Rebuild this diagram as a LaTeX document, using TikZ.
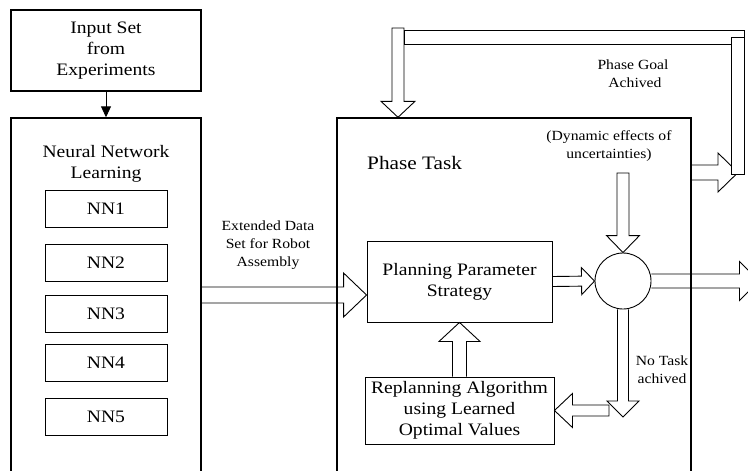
\documentclass[tikz,border=0pt]{standalone}
\usepackage{fontspec}
\setmainfont{Liberation Serif}[FakeStretch=1.12]
\usetikzlibrary{calc,arrows.meta}

% hollow block arrow from #2 to #3: shaft half width #4, head half width #5, head length #6
\newcommand{\blockarrow}[6][]{%
  \coordinate (ba-c) at ($(#3)!#6!(#2)$);
  \draw[arrowline] ($(#2)!#4!90:(#3)$) -- ($(ba-c)!#4!-90:(#2)$) -- ($(ba-c)!#5!-90:(#2)$)
    -- (#3) -- ($(ba-c)!#5!90:(#2)$) -- ($(ba-c)!#4!90:(#2)$) -- ($(#2)!#4!-90:(#3)$) #1;}

\tikzset{
  bigbox/.style={draw, line width=1.4pt, inner sep=0pt, align=center},
  smallbox/.style={draw, line width=0.9pt, inner sep=0pt, align=center},
  arrowline/.style={draw, line width=0.9pt, line join=miter},
  maintext/.style={font=\fontsize{17.5}{21}\selectfont, align=center, inner sep=0pt},
  labeltext/.style={font=\fontsize{14}{18}\selectfont, align=center, inner sep=0pt},
}

\begin{document}
\begin{tikzpicture}[x=1pt, y=-1pt]
\useasboundingbox (0,0) rectangle (748,471);
\clip (0,0) rectangle (748,471);

% left column
\node[bigbox, maintext, minimum width=190pt, minimum height=81pt] (input) at (106,50.5)
  {Input Set\\from\\Experiments};
\node[bigbox, minimum width=190pt, minimum height=362pt] (nn) at (106,299) {};
\node[maintext] (nntitle) at (106,164) {Neural Network\\Learning};
\node[smallbox, maintext, minimum width=122pt, minimum height=37pt] (nn1) at (106,208.5) {NN1};
\node[smallbox, maintext, minimum width=122pt, minimum height=37pt] (nn2) at (106,263) {NN2};
\node[smallbox, maintext, minimum width=122pt, minimum height=37pt] (nn3) at (106,313.5) {NN3};
\node[smallbox, maintext, minimum width=122pt, minimum height=37pt] (nn4) at (106,363) {NN4};
\node[smallbox, maintext, minimum width=122pt, minimum height=37pt] (nn5) at (106,417) {NN5};
\draw[line width=0.9pt, -{Triangle[length=11pt, width=10pt]}] (input.south) -- (nn.north);

% phase block
\node[bigbox, minimum width=354pt, minimum height=362pt] (phase) at (514,299) {};
\node[font=\fontsize{19}{22}\selectfont, inner sep=0pt, anchor=west] (phasetitle) at (367,163) {Phase Task};
\node[smallbox, maintext, minimum width=185pt, minimum height=81pt] (plan) at (459.5,281.5)
  {Planning Parameter\\Strategy};
\node[smallbox, maintext, minimum width=189pt, minimum height=67pt] (replan) at (459.5,410.5)
  {Replanning Algorithm\\using Learned\\Optimal Values};
\node[draw, line width=0.9pt, circle, minimum size=56pt, inner sep=0pt] (circ) at (623,281) {};

% labels
\node[labeltext] (extlabel) at (268,245) {Extended Data\\Set for Robot\\Assembly};
\node[labeltext] (dynlabel) at (609,146.5) {(Dynamic effects of\\uncertainties)};
\node[labeltext] (goallabel) at (633,74) {Phase Goal\\\ Achived};
\node[labeltext] (notask) at (662,369.5) {No Task\\achived};

% connector end points
\coordinate (ext-s) at (nn.east |- 0,295);
\coordinate (ext-e) at (plan.west |- ext-s);
\coordinate (out-e) at (759,281);
\coordinate (unc-s) at (circ.north |- 0,173);
\coordinate (nt-e) at (circ.south |- 0,417);
\coordinate (back-s) at (609,410.5);
\coordinate (back-e) at (replan.east |- back-s);
\coordinate (goal-s) at (phase.east |- 0,172.5);
\coordinate (goal-e) at (738,172.5);
\coordinate (loop-s) at (398,28);
\coordinate (loop-e) at (phase.north -| loop-s);

% block arrows
\blockarrow{ext-s}{ext-e}{8pt}{22pt}{23pt}
\blockarrow{plan.east}{circ.west}{5pt}{13.5pt}{13pt}
\blockarrow{circ.east}{out-e}{7pt}{19.5pt}{19.5pt}
\blockarrow[-- cycle]{unc-s}{circ.north}{6pt}{16.5pt}{17pt}
\blockarrow{circ.south}{nt-e}{5.5pt}{16pt}{16pt}
\blockarrow[-- cycle]{back-s}{back-e}{5.5pt}{17pt}{18pt}
\blockarrow{replan.north}{plan.south}{7pt}{20.5pt}{19pt}
\blockarrow{goal-s}{goal-e}{7.5pt}{19.5pt}{20pt}

% feedback loop back to the phase task
\blockarrow[-- cycle]{loop-s}{loop-e}{6pt}{17pt}{16pt}
\draw[arrowline] (404,30) rectangle (744,44);
\draw[arrowline, fill=white] (731,37) rectangle (744,174);
\end{tikzpicture}
\end{document}
